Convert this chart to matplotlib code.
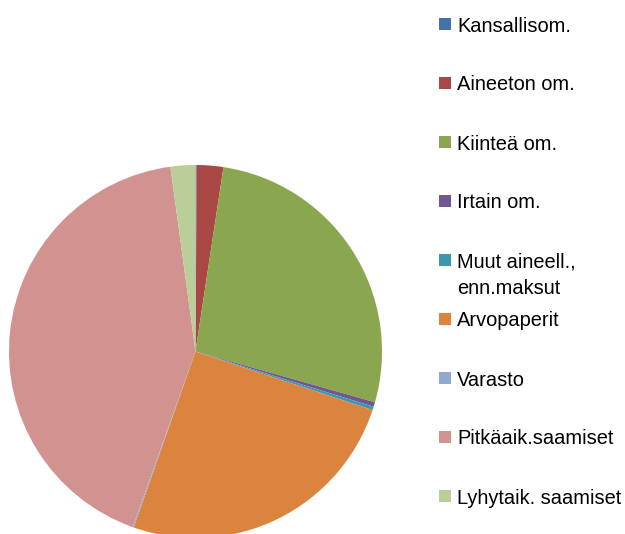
import matplotlib
matplotlib.use("Agg")
import matplotlib.pyplot as plt
from matplotlib.patches import Rectangle

categories = ["Kansallisom.", "Aineeton om.", "Kiinteä om.", "Irtain om.",
              "Muut aineell.,\nenn.maksut", "Arvopaperit", "Varasto",
              "Pitkäaik.saamiset", "Lyhytaik. saamiset"]
values = [0.1, 2.3, 27.0, 0.4, 0.3, 25.3, 0.1, 42.4, 2.15]
colors = ["#4572A7", "#A94745", "#8AA74F", "#71578F", "#3C98B0",
          "#DB843D", "#92A9CF", "#D19290", "#BACF98"]

W, H = 625, 534
fig = plt.figure(figsize=(W / 100, H / 100), dpi=100)
plt.rcParams['font.family'] = ['Liberation Sans', 'DejaVu Sans']

cx, cy, r = 195.5, 351.5, 186.5
ax = fig.add_axes([(cx - r) / W, (H - cy - r) / H, 2 * r / W, 2 * r / H])
ax.pie(values, colors=colors, startangle=90, counterclock=False,
       wedgeprops=dict(linewidth=0), radius=1)
ax.set_xlim(-1, 1)
ax.set_ylim(-1, 1)
ax.set_aspect('auto')
ax.axis('off')

# legend
x0 = 439
y_first = 24
step = 59
sq = 12
fs = 14.4
for i, (lab, col) in enumerate(zip(categories, colors)):
    yc = y_first + i * step
    fig.add_artist(Rectangle((x0 / W, 1 - (yc + sq / 2) / H), sq / W, sq / H,
                             transform=fig.transFigure, facecolor=col,
                             edgecolor='none'))
    for j, ln in enumerate(lab.split("\n")):
        fig.text((x0 + 18) / W, 1 - (yc + 7.5 + 26 * j) / H, ln, fontsize=fs,
                 va='baseline', ha='left', color='black')

fig.savefig("out.png", dpi=100)
